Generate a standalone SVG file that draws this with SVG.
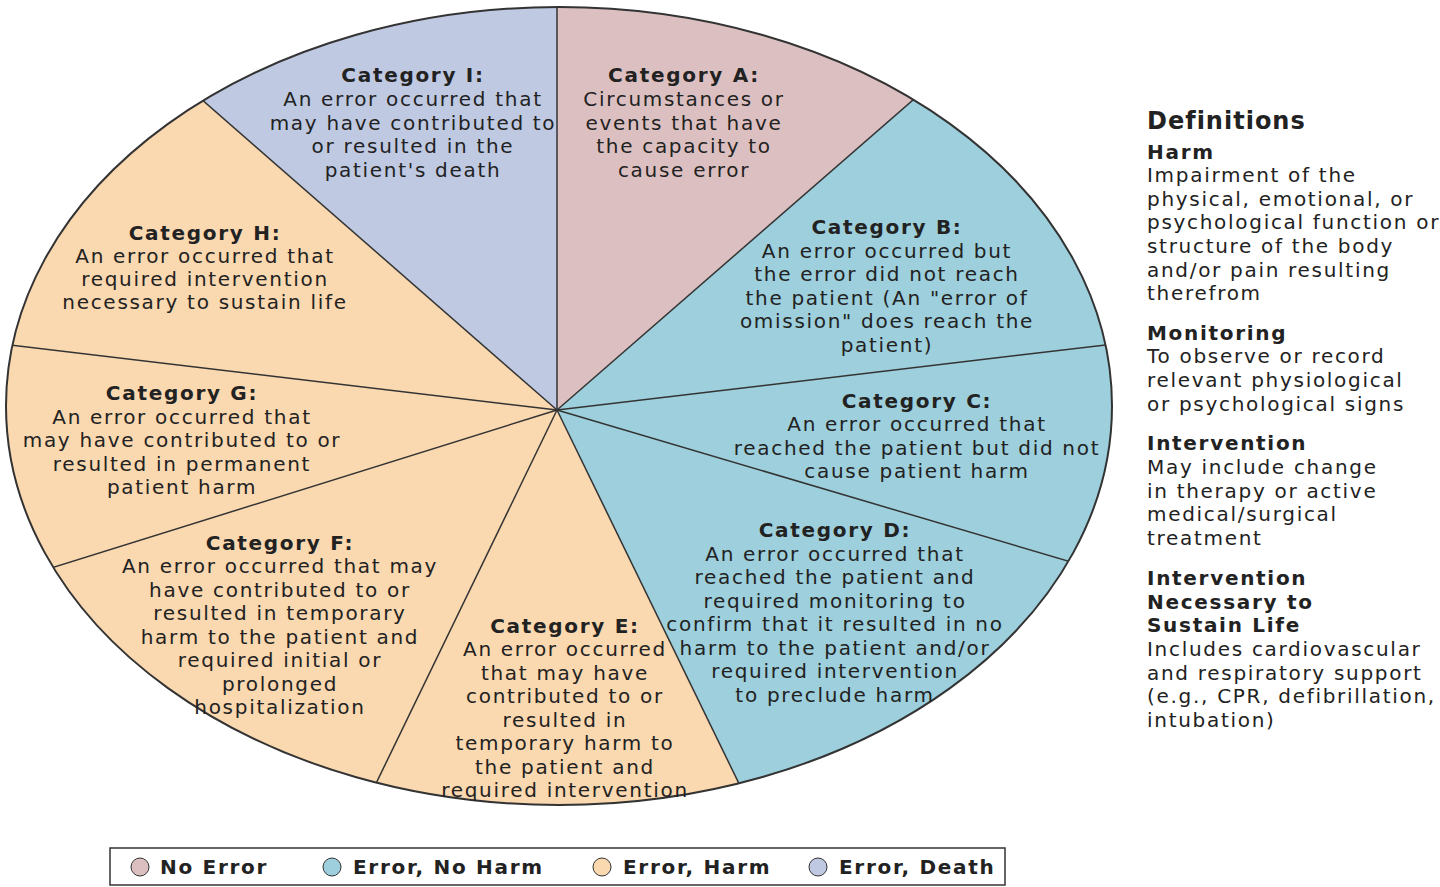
<svg xmlns="http://www.w3.org/2000/svg" width="1440" height="887" viewBox="0 0 1440 887">
<style>
text{font-family:"DejaVu Sans","Liberation Sans",Arial,sans-serif;font-size:20px;letter-spacing:1.7px;fill:#222}
.c text{text-anchor:middle}
.b{font-weight:bold}
.ln{stroke:#333;stroke-width:1.5}
</style>
<defs><clipPath id="ce"><ellipse cx="559" cy="406" rx="553" ry="399"/></clipPath></defs>
<rect width="1440" height="887" fill="#fff"/>
<g clip-path="url(#ce)">
<polygon id="sI" points="557,410 -157,-214 557,-300" fill="#bfc9e2"/>
<polygon id="sA" points="557,410 557,-300 1269,-210" fill="#dcc0c1"/>
<polygon id="sB" points="557,410 1269,-210 1653,280" fill="#9dcfdc"/>
<polygon id="sC" points="557,410 1653,280 1639,730" fill="#9dcfdc"/>
<polygon id="sD" points="557,410 1639,730 937,1190" fill="#9dcfdc"/>
<polygon id="sE" points="557,410 937,1190 179,1190" fill="#fad8b0"/>
<polygon id="sF" points="557,410 179,1190 -467,730" fill="#fad8b0"/>
<polygon id="sG" points="557,410 -467,730 -537,280" fill="#fad8b0"/>
<polygon id="sH" points="557,410 -537,280 -157,-214" fill="#fad8b0"/>
<g id="connectors" class="ln">
<line x1="557" y1="410" x2="557" y2="-300"/>
<line x1="557" y1="410" x2="1269" y2="-210"/>
<line x1="557" y1="410" x2="1653" y2="280"/>
<line x1="557" y1="410" x2="1639" y2="730"/>
<line x1="557" y1="410" x2="937" y2="1190"/>
<line x1="557" y1="410" x2="179" y2="1190"/>
<line x1="557" y1="410" x2="-467" y2="730"/>
<line x1="557" y1="410" x2="-537" y2="280"/>
<line x1="557" y1="410" x2="-157" y2="-214"/>
</g>
</g>
<ellipse cx="559" cy="406" rx="553" ry="399" fill="none" stroke="#333" stroke-width="2"/>
<g class="c">
<g id="catI"><text x="413" y="82" class="b">Category I:</text><text x="413" y="106">An error occurred that</text><text x="413" y="130">may have contributed to</text><text x="413" y="153">or resulted in the</text><text x="413" y="177">patient's death</text></g>
<g id="catA"><text x="684" y="82" class="b">Category A:</text><text x="684" y="106">Circumstances or</text><text x="684" y="130">events that have</text><text x="684" y="153">the capacity to</text><text x="684" y="177">cause error</text></g>
<g id="catB"><text x="887" y="234" class="b">Category B:</text><text x="887" y="258">An error occurred but</text><text x="887" y="281">the error did not reach</text><text x="887" y="305">the patient (An "error of</text><text x="887" y="328">omission" does reach the</text><text x="887" y="352">patient)</text></g>
<g id="catH"><text x="205" y="240" class="b">Category H:</text><text x="205" y="263">An error occurred that</text><text x="205" y="286">required intervention</text><text x="205" y="309">necessary to sustain life</text></g>
<g id="catG"><text x="182" y="400" class="b">Category G:</text><text x="182" y="424">An error occurred that</text><text x="182" y="447">may have contributed to or</text><text x="182" y="471">resulted in permanent</text><text x="182" y="494">patient harm</text></g>
<g id="catC"><text x="917" y="408" class="b">Category C:</text><text x="917" y="431">An error occurred that</text><text x="917" y="455">reached the patient but did not</text><text x="917" y="478">cause patient harm</text></g>
<g id="catF"><text x="280" y="550" class="b">Category F:</text><text x="280" y="573">An error occurred that may</text><text x="280" y="597">have contributed to or</text><text x="280" y="620">resulted in temporary</text><text x="280" y="644">harm to the patient and</text><text x="280" y="667">required initial or</text><text x="280" y="691">prolonged</text><text x="280" y="714">hospitalization</text></g>
<g id="catD"><text x="835" y="537" class="b">Category D:</text><text x="835" y="561">An error occurred that</text><text x="835" y="584">reached the patient and</text><text x="835" y="608">required monitoring to</text><text x="835" y="631">confirm that it resulted in no</text><text x="835" y="655">harm to the patient and/or</text><text x="835" y="678">required intervention</text><text x="835" y="702">to preclude harm</text></g>
<g id="catE"><text x="565" y="633" class="b">Category E:</text><text x="565" y="656">An error occurred</text><text x="565" y="680">that may have</text><text x="565" y="703">contributed to or</text><text x="565" y="727">resulted in</text><text x="565" y="750">temporary harm to</text><text x="565" y="774">the patient and</text><text x="565" y="797">required intervention</text></g>
</g>
<g id="definitions">
<text x="1147" y="129" class="b" style="font-size:24px;letter-spacing:1px">Definitions</text>
<text x="1147" y="159" class="b">Harm</text>
<text x="1147" y="182">Impairment of the</text><text x="1147" y="206">physical, emotional, or</text><text x="1147" y="229">psychological function or</text><text x="1147" y="253">structure of the body</text><text x="1147" y="277">and/or pain resulting</text><text x="1147" y="300">therefrom</text>
<text x="1147" y="340" class="b">Monitoring</text>
<text x="1147" y="363">To observe or record</text><text x="1147" y="387">relevant physiological</text><text x="1147" y="411">or psychological signs</text>
<text x="1147" y="450" class="b">Intervention</text>
<text x="1147" y="474">May include change</text><text x="1147" y="498">in therapy or active</text><text x="1147" y="521">medical/surgical</text><text x="1147" y="545">treatment</text>
<text x="1147" y="585" class="b">Intervention</text><text x="1147" y="609" class="b">Necessary to</text><text x="1147" y="632" class="b">Sustain Life</text>
<text x="1147" y="656">Includes cardiovascular</text><text x="1147" y="680">and respiratory support</text><text x="1147" y="703">(e.g., CPR, defibrillation,</text><text x="1147" y="727">intubation)</text>
</g>
<g id="legend">
<rect x="110" y="848" width="895" height="37" fill="#fff" stroke="#333" stroke-width="1.5"/>
<circle cx="140" cy="867" r="9" fill="#dcc0c1" stroke="#333"/><text x="160" y="874" class="b">No Error</text>
<circle cx="332" cy="867" r="9" fill="#9dcfdc" stroke="#333"/><text x="353" y="874" class="b">Error, No Harm</text>
<circle cx="602" cy="867" r="9" fill="#fad8b0" stroke="#333"/><text x="623" y="874" class="b">Error, Harm</text>
<circle cx="818" cy="867" r="9" fill="#bfc9e2" stroke="#333"/><text x="839" y="874" class="b">Error, Death</text>
</g>
</svg>
